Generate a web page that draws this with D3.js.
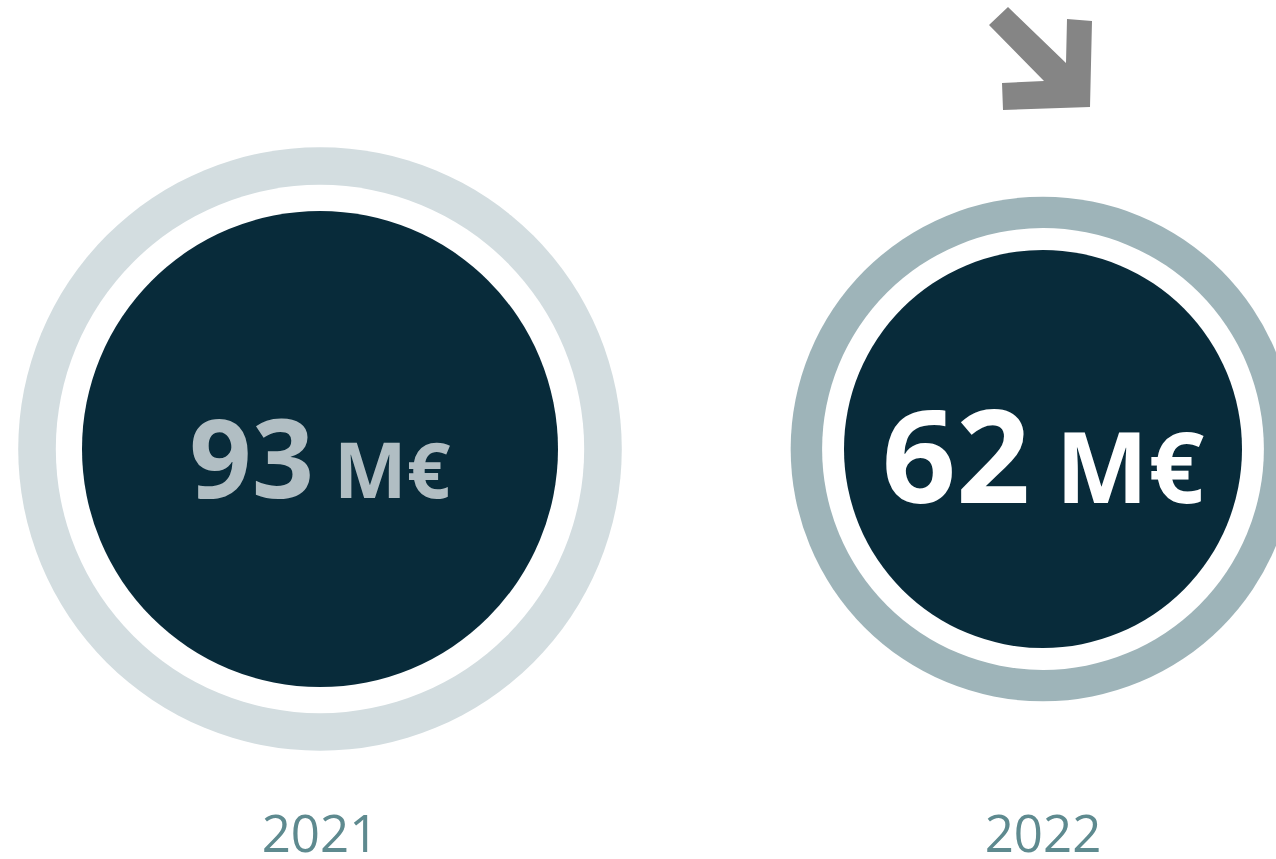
<!DOCTYPE html>
<html>
<head>
<meta charset="utf-8">
<script src="https://cdn.jsdelivr.net/npm/d3@7"></script>
<style>
  body { margin: 0; background: #fff; }
  svg { display: block; }
</style>
</head>
<body>
<script>
var years = ["2021", "2022"];
var values = [93, 62];
var unit = "M€";

var width = 1276,
    height = 859;

var numColor = ["#b1bec3", "#ffffff"];
var ringColor = ["#d3dde0", "#9eb4b9"];
var numSize = [109, 130];
var unitSize = [77, 98];

var svg = d3.select("body").append("svg")
  .attr("width", width)
  .attr("height", height);

var x = d3.scalePoint()
  .domain(years)
  .range([320, 1043]);

// radius of the dark disc
var r = d3.scaleLinear()
  .domain([62, 93])
  .range([199, 238]);

var cy = 449;

var g = svg.selectAll(".bubble")
  .data(values)
  .enter().append("g")
  .attr("class", "bubble")
  .attr("transform", function(d, i) { return "translate(" + x(years[i]) + "," + cy + ")"; });

g.append("circle")
  .attr("r", function(d) { return r(d) * 1.268; })
  .style("fill", function(d, i) { return ringColor[i]; });

g.append("circle")
  .attr("r", function(d) { return r(d) * 1.11; })
  .style("fill", "#fff");

g.append("circle")
  .attr("r", function(d) { return r(d); })
  .style("fill", "#082b3a");

var label = g.append("text")
  .attr("text-anchor", "middle")
  .attr("y", function(d, i) { return i === 0 ? 49 : 54; })
  .style("font-family", "'Open Sans', sans-serif")
  .style("font-weight", 700)
  .style("fill", function(d, i) { return numColor[i]; });

label.append("tspan")
  .style("font-size", function(d, i) { return numSize[i] + "px"; })
  .text(function(d) { return d; });

label.append("tspan")
  .style("font-size", function(d, i) { return unitSize[i] + "px"; })
  .text(" " + unit);

svg.selectAll(".year")
  .data(years)
  .enter().append("text")
  .attr("class", "year")
  .attr("x", function(d) { return x(d); })
  .attr("y", 852)
  .attr("text-anchor", "middle")
  .style("font-family", "'Open Sans', sans-serif")
  .style("font-size", "51px")
  .style("fill", "#5e8a8f")
  .text(function(d) { return d; });

// down-right arrow above the 2022 value
var arrow = [[989, 25], [1008, 7], [1066, 63], [1067, 19], [1092, 21], [1090, 107], [1003, 110], [1002, 83], [1044, 81]];
svg.append("path")
  .attr("d", d3.line()(arrow) + "Z")
  .style("fill", "#858585");
</script>
</body>
</html>
